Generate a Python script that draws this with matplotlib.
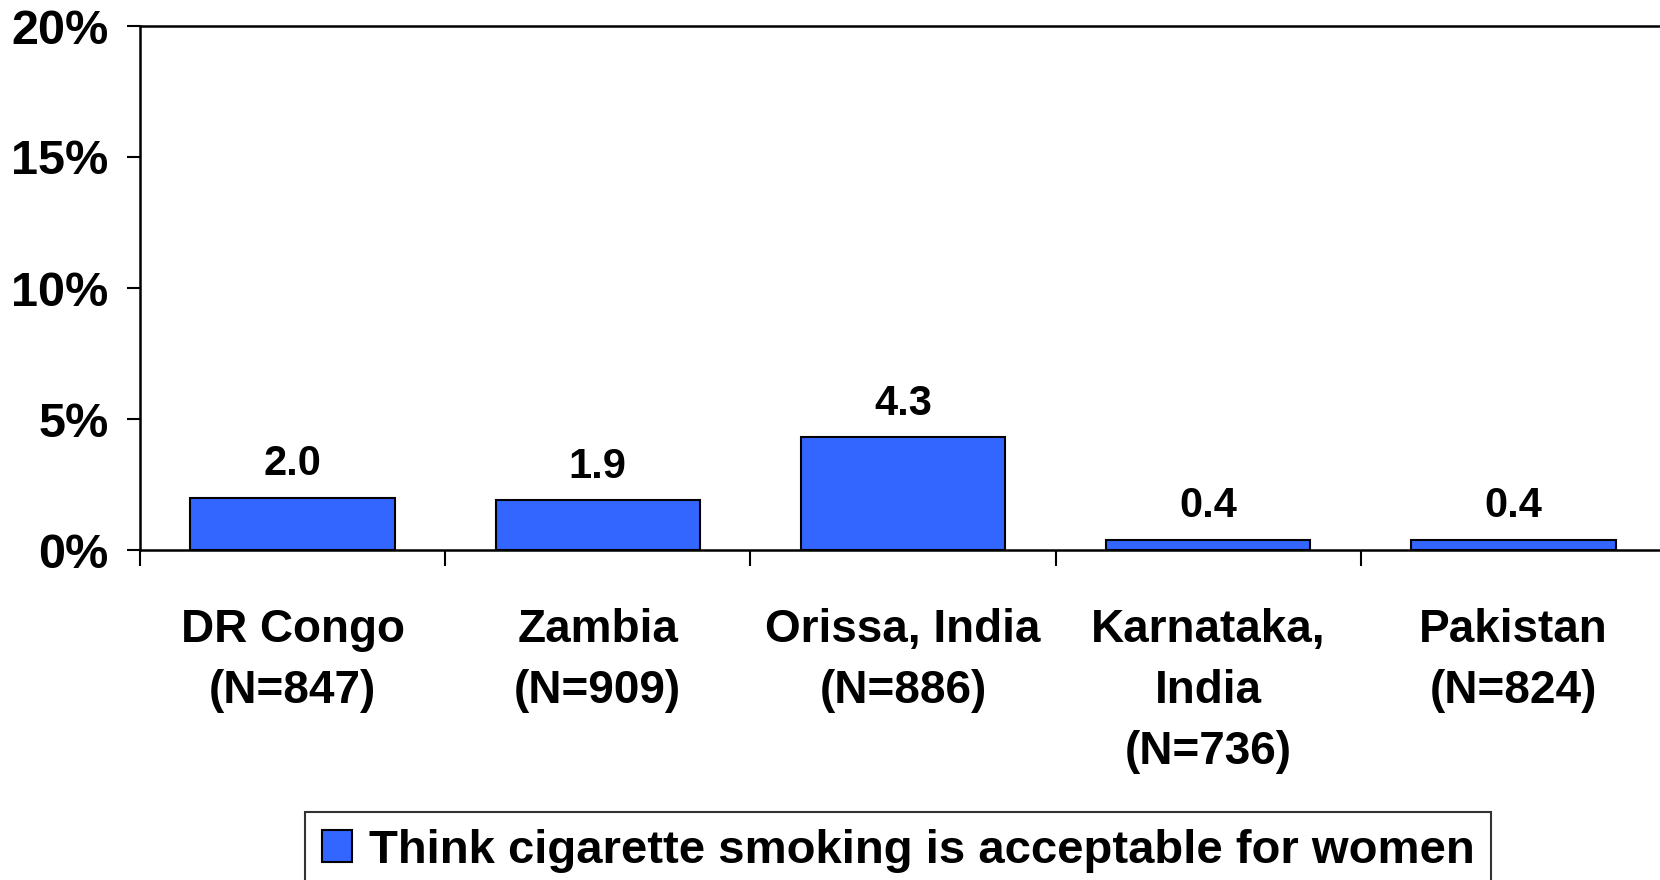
import matplotlib
matplotlib.use("Agg")
import matplotlib.pyplot as plt
import matplotlib.patches as mpatches
import numpy as np

plt.rcParams['font.family'] = ['Liberation Sans', 'DejaVu Sans']
plt.rcParams['font.weight'] = 'bold'

# Chart data
countries = ["DR Congo\n(N=847)", "Zambia\n(N=909)", "Orissa, India\n(N=886)",
             "Karnataka,\nIndia\n(N=736)", "Pakistan\n(N=824)"]
values = [2.0, 1.9, 4.3, 0.4, 0.4]
y_ticks = [0, 5, 10, 15, 20]
series_name = "Think cigarette smoking is acceptable for women"

bar_color = "#3366FF"

fig = plt.figure(figsize=(16.6, 8.8), dpi=100)
W, H = 1660, 880
ax = fig.add_axes([140 / W, 1 - 550 / H, (1666 - 140) / W, (550 - 26) / H])

x = np.arange(len(values))
bars = ax.bar(x, values, width=0.67, color=bar_color, edgecolor="black", linewidth=1.5)

ax.set_xlim(-0.5, len(values) - 0.5)
ax.set_ylim(0, 20)

# y axis
ax.set_yticks(y_ticks)
ax.set_yticklabels([f"{t}%" for t in y_ticks], fontsize=35, fontweight="bold")
ax.tick_params(axis="y", direction="out", length=9.5, width=1.5, pad=13)

# x axis: labels at bar centres, tick marks at category boundaries
ax.set_xticks(x)
ax.set_xticklabels(countries, fontsize=33, fontweight="bold", linespacing=1.5)
ax.tick_params(axis="x", which="major", length=0, pad=42)
ax.set_xticks(np.arange(-0.5, len(values)), minor=True)
ax.tick_params(axis="x", which="minor", direction="out", length=11.5, width=1.5)

for s in ["left", "top", "bottom"]:
    ax.spines[s].set_linewidth(1.8)
ax.spines["right"].set_visible(False)

# value labels
for xi, v in zip(x, values):
    ax.annotate(f"{v:.1f}", (xi, v), xytext=(0, 16), textcoords="offset points",
                ha="center", va="baseline", fontsize=30, fontweight="bold")

# legend
handle = mpatches.Patch(facecolor=bar_color, edgecolor="black", linewidth=1.5, label=series_name)
leg = fig.legend(handles=[handle], loc="upper left", bbox_to_anchor=(305 / W, 1 - 812 / H),
                 fontsize=34, frameon=True, fancybox=False, edgecolor="black",
                 handlelength=0.64, handleheight=0.64, handletextpad=0.36,
                 borderpad=0.35, borderaxespad=0)
leg.get_frame().set_linewidth(1.5)
for t in leg.get_texts():
    t.set_fontweight("bold")

fig.savefig("out.png", dpi=100)
